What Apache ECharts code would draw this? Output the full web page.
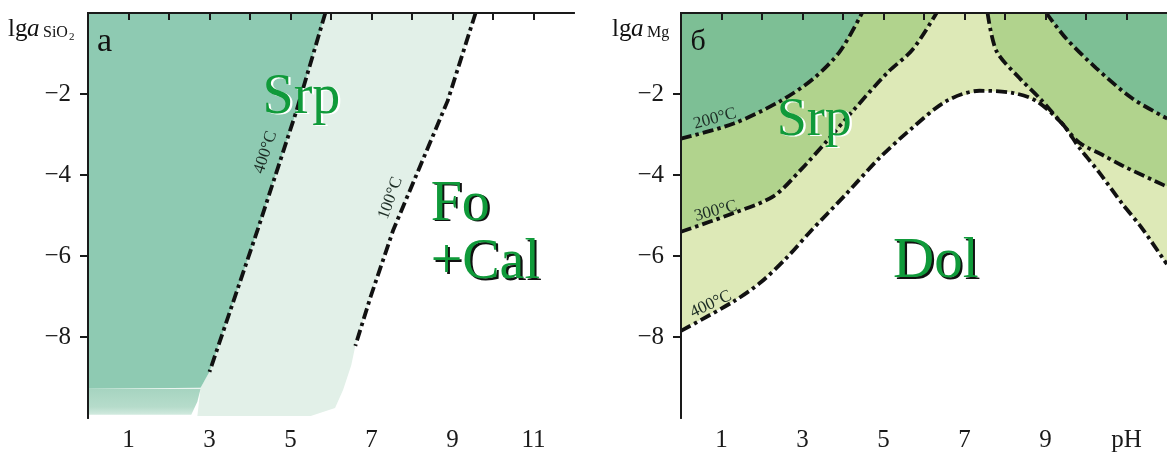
<!DOCTYPE html>
<html>
<head>
<meta charset="utf-8">
<script src="https://cdn.jsdelivr.net/npm/echarts@6/dist/echarts.min.js"></script>
<style>
    html, body { margin: 0; padding: 0; background: #fff; }
    #main { width: 1167px; height: 454px; }
</style>
</head>
<body>
<div id="main"></div>
<script>
// ---- ticks ----
var xTicks = [1, 2, 3, 4, 5, 6, 7, 8, 9, 10, 11];
var xLabels = [1, 3, 5, 7, 9, 11];
var yTicks = [-8, -6, -4, -2];

// ---- panel а : lg a(SiO2) vs pH ----
var line400A = [[5.86, 0], [5.15, -2.41], [4.19, -5.35], [3.0, -8.86]];
var line100A = [[9.57, 0], [8.88, -2.17], [7.54, -5.35], [6.98, -7.0], [6.6, -8.22]];
var srpTailA = [[3.0, -8.86], [2.78, -9.25]];
var lightTailA = [[6.6, -8.22], [6.5, -8.7], [6.3, -9.3], [6.1, -9.75], [5.5, -9.95]];
var speckleA = [[0, -9.28], [2.78, -9.28], [2.7, -9.6], [2.55, -9.92], [0, -9.92]];

// ---- panel б : lg a(Mg) vs pH ----
var curve200 = [[0, -3.1], [1.3, -2.73], [2.46, -2.17], [3.27, -1.62], [3.93, -0.94], [4.47, 0]];
var curve300 = [[0, -5.4], [1.3, -4.94], [2.29, -4.52], [2.95, -3.88], [3.61, -3.15], [4.25, -2.41], [5.09, -1.48], [5.72, -0.9], [6.31, 0]];
var curveDol = [[0, -7.85], [1.3, -7.12], [1.97, -6.65], [2.63, -6.02], [3.19, -5.4], [4.05, -4.5], [4.91, -3.57], [5.72, -2.83], [6.56, -2.17], [7.37, -1.92], [8.18, -1.97], [8.77, -2.17], [9.41, -2.73], [9.83, -3.32], [10.32, -3.93], [10.88, -4.69], [11.38, -5.31], [11.92, -6.09], [12, -6.2]];
var curveR1 = [[7.57, 0], [7.79, -0.94], [8.35, -1.6], [8.85, -2.1], [9.41, -2.73], [9.83, -3.2], [10.4, -3.5], [10.88, -3.76], [11.92, -4.25], [12, -4.28]];
var curveR2 = [[9.02, 0], [9.51, -0.63], [10.25, -1.36], [11.13, -2.1], [11.97, -2.59], [12, -2.6]];

var FONT = '"Liberation Serif", "DejaVu Serif", serif';
var DASH = [11, 4, 3.5, 4];

function fmtMinus(v) {
    return String(v).replace('-', '\u2212');
}

function polySeries(axisIdx, pts, color) {
    return {
        type: 'custom',
        xAxisIndex: axisIdx,
        yAxisIndex: axisIdx,
        silent: true,
        z: 1,
        data: [[0, 0]],
        renderItem: function (params, api) {
            return {
                type: 'polygon',
                shape: { points: pts.map(function (p) { return api.coord(p); }) },
                style: { fill: color }
            };
        }
    };
}

function lineSeries(axisIdx, pts, smooth) {
    return {
        type: 'line',
        xAxisIndex: axisIdx,
        yAxisIndex: axisIdx,
        data: pts,
        showSymbol: false,
        silent: true,
        smooth: smooth,
        z: 5,
        lineStyle: { color: '#111', width: 3.8, type: DASH }
    };
}

function bottomAxis(grid, fmt) {
    return {
        type: 'value', gridIndex: grid, min: 0, max: 12, position: 'bottom', z: 10,
        axisLine: { lineStyle: { color: '#1a1a1a', width: 2 } },
        axisTick: { customValues: xTicks, length: 7, lineStyle: { color: '#1a1a1a', width: 2 } },
        axisLabel: { customValues: xLabels, formatter: fmt, margin: 10, fontFamily: FONT, fontSize: 25, color: '#1a1a1a' },
        splitLine: { show: false }
    };
}
function topAxis(grid) {
    return {
        type: 'value', gridIndex: grid, min: 0, max: 12, position: 'top', z: 10,
        axisLine: { lineStyle: { color: '#1a1a1a', width: 2 } },
        axisTick: { show: false }, axisLabel: { show: false }, splitLine: { show: false }
    };
}
function leftAxis(grid) {
    return {
        type: 'value', gridIndex: grid, min: -10, max: 0, position: 'left', z: 10,
        axisLine: { lineStyle: { color: '#1a1a1a', width: 2 } },
        axisTick: { customValues: yTicks, length: 8, lineStyle: { color: '#1a1a1a', width: 2 } },
        axisLabel: { customValues: yTicks, formatter: fmtMinus, margin: 17, fontFamily: FONT, fontSize: 25, color: '#1a1a1a' },
        splitLine: { show: false }
    };
}
function rightAxis(grid) {
    return {
        type: 'value', gridIndex: grid, min: -10, max: 0, position: 'right', z: 10,
        axisLine: { lineStyle: { color: '#1a1a1a', width: 2 } },
        axisTick: { show: false }, axisLabel: { show: false }, splitLine: { show: false }
    };
}

var green = {
    dark: '#8ecab2',
    light: '#e2f0e8',
    speckle: new echarts.graphic.LinearGradient(0, 0, 0, 1, [
        { offset: 0, color: '#a6d4c0' }, { offset: 0.7, color: '#b6dccb' }, { offset: 1, color: '#d2eadf' }
    ])
};
var greenB = { dark: '#7dbf95', mid: '#b1d38d', light: '#dde9b7' };

var series = [];
// panel а fills
series.push(polySeries(0, [[5.86, 0], [9.57, 0]].concat(line100A.slice(1), lightTailA.slice(1), [[2.7, -9.95], [2.78, -9.25], [3.0, -8.86]]), green.light));
series.push(polySeries(0, [[0, 0]].concat(line400A, srpTailA.slice(1), [[0, -9.28]]), green.dark));
series.push(polySeries(0, speckleA, green.speckle));
series.push(lineSeries(0, line400A, false));
series.push(lineSeries(0, line100A, false));

// panel б fills
series.push(polySeries(2, [[0, 0]].concat(curveDol, [[12, 0]]), greenB.light));
series.push(polySeries(2, [[0, 0]].concat(curve300), greenB.mid));
series.push(polySeries(2, curveR1.concat([[12, 0]]), greenB.mid));
series.push(polySeries(2, [[0, 0]].concat(curve200), greenB.dark));
series.push(polySeries(2, curveR2.concat([[12, 0]]), greenB.dark));
series.push(polySeries(2, [[0, -10]].concat(curveDol, [[12, -10]]), '#ffffff'));
series.push(lineSeries(2, curve200, 0.3));
series.push(lineSeries(2, curve300, 0.3));
series.push(lineSeries(2, curveDol, 0.3));
series.push(lineSeries(2, curveR1, 0.3));
series.push(lineSeries(2, curveR2, 0.3));

var chart = echarts.init(document.getElementById('main'));
chart.setOption({
    animation: false,
    backgroundColor: '#fff',
    grid: [
        { left: 88, top: 13, width: 486, height: 405 },
        { left: 681, top: 13, width: 488, height: 405 }
    ],
    xAxis: [
        bottomAxis(0, function (v) { return String(v); }), topAxis(0),
        bottomAxis(1, function (v) { return v === 11 ? 'pH' : String(v); }), topAxis(1)
    ],
    yAxis: [leftAxis(0), rightAxis(0), leftAxis(1), rightAxis(1)],
    series: series
});

// annotations, placed in data coordinates
var texts = [
    // grid, x, y, text, size, rotation(deg), color, shadow, align
    [0, 0.41, -0.72, '\u0430', 34, 0, '#111', null, 'center'],
    [0, 5.27, -2.1, 'Srp', 56, 0, '#109a3a', '#ffffff', 'center'],
    [0, 4.38, -3.44, '400\u00b0C', 17, 72, '#1d2d25', null, 'center'],
    [0, 7.47, -4.57, '100\u00b0C', 17, 70, '#1d2d25', null, 'center'],
    [0, 8.46, -4.74, 'Fo', 56, 0, '#109a3a', '#111', 'left'],
    [0, 8.46, -6.19, '+Cal', 56, 0, '#109a3a', '#111', 'left'],
    [1, 0.42, -0.72, '\u0431', 30, 0, '#111', null, 'center'],
    [1, 3.29, -2.66, 'Srp', 54, 0, '#109a3a', '#ffffff', 'center'],
    [1, 6.29, -6.16, 'Dol', 57, 0, '#109a3a', '#111', 'center'],
    [1, 0.84, -2.61, '200\u00b0C', 17, 15, '#1d2d25', null, 'center'],
    [1, 0.86, -4.89, '300\u00b0C', 17, 15, '#1d2d25', null, 'center'],
    [1, 0.74, -7.19, '400\u00b0C', 17, 25, '#1d2d25', null, 'center']
];

var graphics = [];
texts.forEach(function (t) {
    var p = chart.convertToPixel({ gridIndex: t[0] }, [t[1], t[2]]);
    var rot = t[5] * Math.PI / 180;
    var font = t[4] + 'px ' + FONT;
    // shadow copy first, offset down-right, then the coloured text on top
    if (t[7]) {
        graphics.push({
            type: 'text', x: p[0] + 2.2, y: p[1] + 1.2, rotation: rot, z: 19,
            style: { text: t[3], fill: t[7], font: font, align: t[8], verticalAlign: 'middle' }
        });
    }
    graphics.push({
        type: 'text', x: p[0], y: p[1], rotation: rot, z: 20,
        style: { text: t[3], fill: t[6], font: font, align: t[8], verticalAlign: 'middle' }
    });
});

// axis titles: lg a_SiO2 and lg a_Mg
function axisTitle(x0, sub, subsub) {
    var items = [
        { type: 'text', x: x0, y: 29, style: { text: 'lg', font: '25px ' + FONT, fill: '#111', verticalAlign: 'middle' } },
        { type: 'text', x: x0 + 19, y: 29, style: { text: 'a', font: 'italic 25px ' + FONT, fill: '#111', verticalAlign: 'middle' } },
        { type: 'text', x: x0 + 35, y: 33, style: { text: sub, font: '16px ' + FONT, fill: '#111', verticalAlign: 'middle' } }
    ];
    if (subsub) {
        items.push({ type: 'text', x: x0 + 61, y: 37, style: { text: subsub, font: '11px ' + FONT, fill: '#111', verticalAlign: 'middle' } });
    }
    return items;
}
graphics = graphics.concat(axisTitle(8, 'SiO', '2'), axisTitle(612, 'Mg', null));

chart.setOption({ graphic: graphics });
</script>
</body>
</html>
